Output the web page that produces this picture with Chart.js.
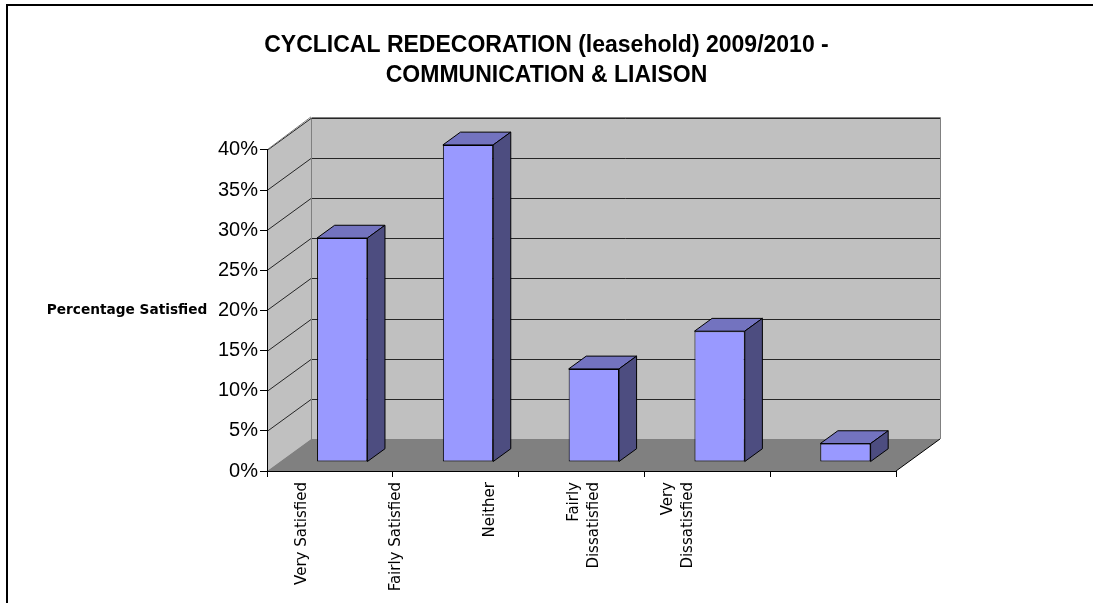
<!DOCTYPE html>
<html><head><meta charset="utf-8">
<script src="https://cdn.jsdelivr.net/npm/chart.js@4/dist/chart.umd.min.js"></script>
<style>html,body{margin:0;padding:0;background:#fff}canvas{display:block}</style>
</head><body>
<canvas id="c" width="1093" height="603"></canvas>
<script>
const titleLines = ['CYCLICAL REDECORATION (leasehold) 2009/2010 -', 'COMMUNICATION & LIAISON'];
const categories = ['Very Satisfied', 'Fairly Satisfied', 'Neither', ['Fairly', 'Dissatisfied'], ['Very', 'Dissatisfied']];
const values = [27.9, 39.5, 11.6, 16.3, 2.3];
const yAxisTitle = 'Percentage Satisfied';
const yMin = 0, yMax = 40, yStep = 5;

const DEPTH = {dx: 44, dy: -32};
const BAR_FRONT = 0.28, BAR_DEPTH = 0.4;
const COLORS = {wall:'#c0c0c0', floor:'#808080', grid:'#262626', edge:'#808080', front:'#9999ff', top:'#7373bf', side:'#4d4d80'};
const LABEL_FONT = {family:'"DejaVu Sans", sans-serif', size:15, lineHeight:1.33};
const LABEL_STEP_RATIO = 0.747, LABEL_SHIFT = -12;

function poly(ctx, pts, fill, stroke) {
  ctx.beginPath();
  pts.forEach((p, i) => i ? ctx.lineTo(p[0], p[1]) : ctx.moveTo(p[0], p[1]));
  ctx.closePath();
  if (fill) { ctx.fillStyle = fill; ctx.fill(); }
  if (stroke) { ctx.strokeStyle = stroke; ctx.lineWidth = 1; ctx.stroke(); }
}
function line(ctx, a, b, color) {
  ctx.beginPath(); ctx.moveTo(a[0], a[1]); ctx.lineTo(b[0], b[1]);
  ctx.strokeStyle = color; ctx.lineWidth = 1; ctx.stroke();
}

const frame3d = {
  id: 'frame3d',
  beforeDraw(chart) {
    const ctx = chart.ctx, xs = chart.scales.x, ys = chart.scales.y;
    const {dx, dy} = DEPTH;
    const x0 = xs.left, x1 = xs.right;
    const yb = ys.getPixelForValue(yMin), yt = ys.getPixelForValue(yMax);
    ctx.save();
    // outer frame
    ctx.strokeStyle = '#000'; ctx.lineWidth = 2;
    ctx.beginPath(); ctx.moveTo(7, chart.height + 5); ctx.lineTo(7, 5); ctx.lineTo(chart.width + 5, 5); ctx.stroke();
    // walls & floor
    poly(ctx, [[x0, yt], [x0 + dx, yt + dy], [x0 + dx, yb + dy], [x0, yb]], COLORS.wall);
    poly(ctx, [[x0 + dx, yt + dy], [x1 + dx, yt + dy], [x1 + dx, yb + dy], [x0 + dx, yb + dy]], COLORS.wall);
    poly(ctx, [[x0, yb], [x1, yb], [x1 + dx, yb + dy], [x0 + dx, yb + dy]], COLORS.floor);
    // gridlines
    ys.ticks.forEach(t => {
      if (t.value <= yMin) return;
      const y = Math.round(ys.getPixelForValue(t.value)) + 0.5;
      line(ctx, [x0, y], [x0 + dx, y + dy], COLORS.grid);
      line(ctx, [x0 + dx, y + dy], [x1 + dx + 0.5, y + dy], COLORS.grid);
    });
    // edges
    const bx0 = Math.round(x0 + dx) + 0.5, bx1 = Math.round(x1 + dx) + 0.5;
    const byT = Math.round(yt + dy) - 0.5, byB = yb + dy;
    line(ctx, [bx0, byT + 1], [bx0, byB], COLORS.edge);
    line(ctx, [bx1, byT], [bx1, byB], COLORS.edge);
    line(ctx, [bx0, byT], [bx1, byT], COLORS.edge);
    line(ctx, [x0, yt], [x0 + dx, yt + dy - 1], COLORS.edge);
    line(ctx, [x1, yb], [x1 + dx, yb + dy], '#000');
    ctx.restore();
  },
  afterDraw(chart) {
    const ctx = chart.ctx, ys = chart.scales.y;
    ctx.save();
    ctx.font = 'bold 13.7px "DejaVu Sans", sans-serif';
    ctx.fillStyle = '#000'; ctx.textAlign = 'center'; ctx.textBaseline = 'middle';
    ctx.fillText(yAxisTitle, 127, (ys.top + ys.bottom) / 2);
    ctx.restore();
  }
};

const bars3d = {
  id: 'bars3d',
  beforeDatasetsDraw(chart) {
    chart.ctx.save();
    chart.ctx.translate(DEPTH.dx * BAR_FRONT, DEPTH.dy * BAR_FRONT);
  },
  afterDatasetsDraw(chart) {
    const ctx = chart.ctx;
    ctx.restore();
    const ox = DEPTH.dx * BAR_FRONT, oy = DEPTH.dy * BAR_FRONT;
    const bx = DEPTH.dx * BAR_DEPTH, by = DEPTH.dy * BAR_DEPTH;
    ctx.save();
    chart.getDatasetMeta(0).data.forEach(bar => {
      const {x, y, base, width} = bar.getProps(['x', 'y', 'base', 'width'], true);
      const l = x - width / 2 + ox, r = x + width / 2 + ox, t = y + oy, b = base + oy;
      poly(ctx, [[l, t], [r, t], [r + bx, t + by], [l + bx, t + by]], COLORS.top, '#000');
      poly(ctx, [[r, t], [r + bx, t + by], [r + bx, b + by], [r, b]], COLORS.side, '#000');
    });
    ctx.restore();
  }
};

const labelShift = {
  id: 'labelShift',
  afterLayout(chart) {
    const xs = chart.scales.x, xl = chart.scales.xl;
    const step = xs.width / categories.length * LABEL_STEP_RATIO;
    xl.left = xs.left + LABEL_SHIFT;
    xl.right = xl.left + step * categories.length;
    xl.width = xl.right - xl.left;
    xl.configure();
    const lh = LABEL_FONT.size * LABEL_FONT.lineHeight;
    xl.ticks.forEach((t, i) => {
      const n = Array.isArray(categories[i]) ? categories[i].length : 1;
      t.value = i - (n - 1) / 2 * lh / step;
    });
  }
};

new Chart(document.getElementById('c'), {
  type: 'bar',
  data: {
    labels: categories,
    datasets: [{
      data: values, xAxisID: 'x', yAxisID: 'y',
      backgroundColor: COLORS.front, borderColor: '#000', borderWidth: 1, borderSkipped: false,
      barPercentage: 0.4, categoryPercentage: 1, clip: false
    }]
  },
  options: {
    responsive: false, animation: false, devicePixelRatio: 1,
    layout: {padding: 0},
    plugins: {
      legend: {display: false}, tooltip: {enabled: false},
      title: {
        display: true, text: titleLines, color: '#000',
        font: {family: '"Liberation Sans", Arial, sans-serif', size: 23, weight: 'bold', lineHeight: 1.28},
        padding: {top: 31, bottom: 60}
      }
    },
    scales: {
      x: {
        position: 'bottom', weight: 0,
        grid: {display: true, drawOnChartArea: false, drawTicks: true, tickLength: 6, color: '#000', offset: true},
        border: {display: true, color: '#000'},
        ticks: {display: false},
        afterFit(s) { s.height = 8; }
      },
      xl: {
        type: 'category', position: 'bottom', weight: 1, labels: categories, offset: true,
        grid: {display: false}, border: {display: false},
        ticks: {autoSkip: false, maxRotation: 90, minRotation: 90, padding: -5, color: '#000', font: LABEL_FONT},
        afterFit(s) { s.height = 124; }
      },
      y: {
        min: yMin, max: yMax, position: 'left',
        grid: {drawOnChartArea: false, tickLength: 7, color: '#000'},
        border: {display: true, color: '#000'},
        ticks: {stepSize: yStep, padding: 2, color: '#000', font: {family: '"Liberation Sans", Arial, sans-serif', size: 20}, callback: v => v + '%'},
        afterFit(s) { s.width = 267; }
      },
      yr: {
        type: 'linear', position: 'right', display: true,
        grid: {display: false}, border: {display: false}, ticks: {display: false},
        afterFit(s) { s.width = 197; }
      }
    }
  },
  plugins: [frame3d, bars3d, labelShift]
});
</script>
</body></html>
